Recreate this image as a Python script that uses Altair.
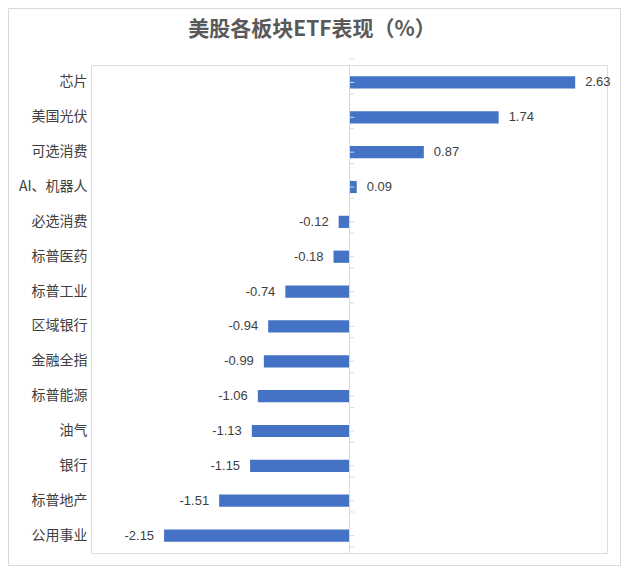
import altair as alt
import pandas as pd

categories = ["芯片", "美国光伏", "可选消费", "AI、机器人", "必选消费", "标普医药", "标普工业",
              "区域银行", "金融全指", "标普能源", "油气", "银行", "标普地产", "公用事业"]
values = [2.63, 1.74, 0.87, 0.09, -0.12, -0.18, -0.74, -0.94, -0.99, -1.06, -1.13, -1.15, -1.51, -2.15]
title_text = "美股各板块ETF表现（%）"

df = pd.DataFrame({"cat": categories, "val": values})
df["label"] = [f"{v:.2f}" for v in values]
df["zero"] = 0.0
df["tickend"] = 0.06

W, H = 516, 488
L, T = 83, 57
TOTAL_W, TOTAL_H = 613, 558
R = TOTAL_W - L - W
B = TOTAL_H - T - H
STEP = H / len(categories)

xscale = alt.Scale(domain=[-3, 3], nice=False, zero=False)
yenc = alt.Y("cat:N", sort=categories,
             scale=alt.Scale(paddingInner=0.65, paddingOuter=0.325),
             axis=alt.Axis(title=None, domain=False, ticks=False, labelPadding=4,
                           labelFontSize=14, labelColor="#404040",
                           labelFont="Noto Sans CJK SC"))

base = alt.Chart(df)

bars = base.mark_bar(color="#4472C4").encode(
    x=alt.X("val:Q", scale=xscale, axis=None),
    x2=alt.X2("zero:Q"),
    y=yenc,
)

zero_line = base.mark_rule(color="#d9d9d9", strokeWidth=1).encode(
    x=alt.X("zero:Q", scale=xscale, axis=None),
    xOffset=alt.value(0.5),
    y=alt.value(0),
    y2=alt.value(H),
)

center_ticks = base.mark_rule(color="#d9d9d9", strokeWidth=1).encode(
    x=alt.X("zero:Q", scale=xscale, axis=None),
    x2=alt.X2("tickend:Q"),
    y=yenc,
)
bound_ticks = base.mark_rule(color="#d9d9d9", strokeWidth=1).encode(
    x=alt.X("zero:Q", scale=xscale, axis=None),
    x2=alt.X2("tickend:Q"),
    y=yenc,
    yOffset=alt.value(-STEP / 2),
)
last_tick = base.transform_filter(alt.datum.cat == categories[-1]).mark_rule(
    color="#d9d9d9", strokeWidth=1).encode(
    x=alt.X("zero:Q", scale=xscale, axis=None),
    x2=alt.X2("tickend:Q"),
    y=yenc,
    yOffset=alt.value(STEP / 2),
)

pos_labels = base.transform_filter(alt.datum.val >= 0).mark_text(
    align="left", baseline="middle", dx=10, fontSize=13,
    font="Liberation Sans", color="#404040").encode(
    x=alt.X("val:Q", scale=xscale, axis=None), y=yenc, text="label:N")
neg_labels = base.transform_filter(alt.datum.val < 0).mark_text(
    align="right", baseline="middle", dx=-10, fontSize=13,
    font="Liberation Sans", color="#404040").encode(
    x=alt.X("val:Q", scale=xscale, axis=None), y=yenc, text="label:N")

one = alt.Data(values=[{"a": 1}])
title = alt.Chart(one).mark_text(
    text=title_text, fontSize=21, fontWeight="bold", font="Noto Sans CJK SC",
    color="#595959", align="center", baseline="middle").encode(
    x=alt.value(312 - 8 - L), y=alt.value(30 - 8 - T))

border = alt.Chart(one).mark_rect(fillOpacity=0, stroke="#d9d9d9", strokeWidth=1).encode(
    x=alt.value(-L + 0.5), x2=alt.value(W + R - 0.5),
    y=alt.value(-T + 0.5), y2=alt.value(H + B - 0.5))

chart = alt.layer(border, bars, zero_line, center_ticks, bound_ticks, last_tick,
                  pos_labels, neg_labels, title).properties(
    width=W, height=H,
    padding={"left": L, "top": T, "right": R, "bottom": B},
    autosize=alt.AutoSizeParams(type="none"),
).configure_view(stroke=None).configure(background="white")

chart.save("out.html", embed_options={"renderer": "svg", "actions": False})
